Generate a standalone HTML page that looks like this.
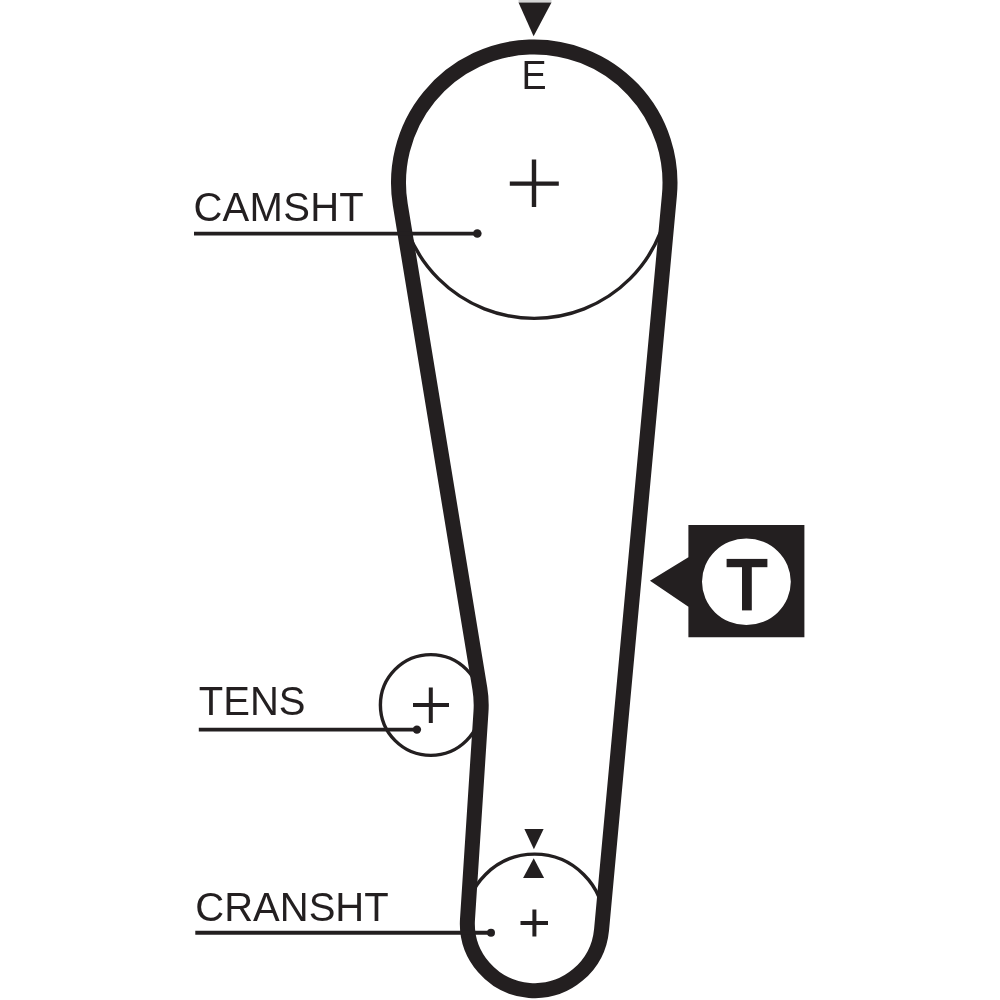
<!DOCTYPE html>
<html><head><meta charset="utf-8"><style>html,body{margin:0;padding:0;background:#fff;}svg{display:block;will-change:transform;}</style></head>
<body><svg xmlns="http://www.w3.org/2000/svg" width="1000" height="1000" viewBox="0 0 1000 1000">
<rect width="1000" height="1000" fill="#fff"/>
<g>
<g fill="none" stroke="#231f20" stroke-width="3.4">
<circle cx="534.25" cy="182.75" r="135.6"/>
<circle cx="430.8" cy="705.0" r="50.4"/>
<circle cx="534.6" cy="923.5" r="69.4"/>
</g>
<path d="M 669.42 195.24 A 135.75 135.75 0 1 0 400.30 204.77 L 479.88 688.78 A 100 100 0 0 1 480.99 711.49 L 467.49 919.14 A 67.25 67.25 0 0 0 601.56 929.69 Z" fill="none" stroke="#231f20" stroke-width="15" stroke-linejoin="round"/>
<g stroke="#231f20" fill="none">
<path d="M534 159.5V207M509.8 183.6H558.8" stroke-width="4.4"/>
<path d="M430.8 687.5V723M413 705H449" stroke-width="4"/>
<path d="M534.4 909.5V936.5M520.5 923H548" stroke-width="4"/>
<path d="M194 233.6H477" stroke-width="3.9"/>
<path d="M198.8 729.6H417" stroke-width="3.9"/>
<path d="M195.3 932.8H491" stroke-width="3.9"/>
</g>
<g fill="#231f20">
<circle cx="477.3" cy="233.5" r="4.3"/>
<circle cx="416.9" cy="729.6" r="4.2"/>
<circle cx="491" cy="932.8" r="4"/>
<rect x="518.5" y="0" width="33" height="2.2" fill="#d4d4d4"/>
<path d="M518.5 2.4H551.5L533.6 36.2Z"/>
<path d="M524.4 829.1H543.6L533.9 849.2Z"/>
<path d="M533.7 858.2L523.1 878H544.1Z"/>
<path fill-rule="evenodd" d="M688.4 525H804.4V637.2H688.4V606.8L650 580.8L688.4 557.2Z M702 581.8a44.4 43.3 0 1 0 88.8 0a44.4 43.3 0 1 0 -88.8 0Z"/>
<rect x="726.6" y="558.9" width="40.8" height="8.3"/>
<rect x="742" y="566" width="9.8" height="44.4"/>
</g>
<g fill="#231f20" font-family="'Liberation Sans', sans-serif" font-size="40">
<text x="193.4" y="221.3" letter-spacing="0.3">CAMSHT</text>
<text x="198.8" y="714.5">TENS</text>
<text x="195.3" y="920.6">CRANSHT</text>
<text x="0" y="0" transform="translate(521.6 88.6) scale(0.94 1)">E</text>
</g>
</g>
</svg></body></html>
